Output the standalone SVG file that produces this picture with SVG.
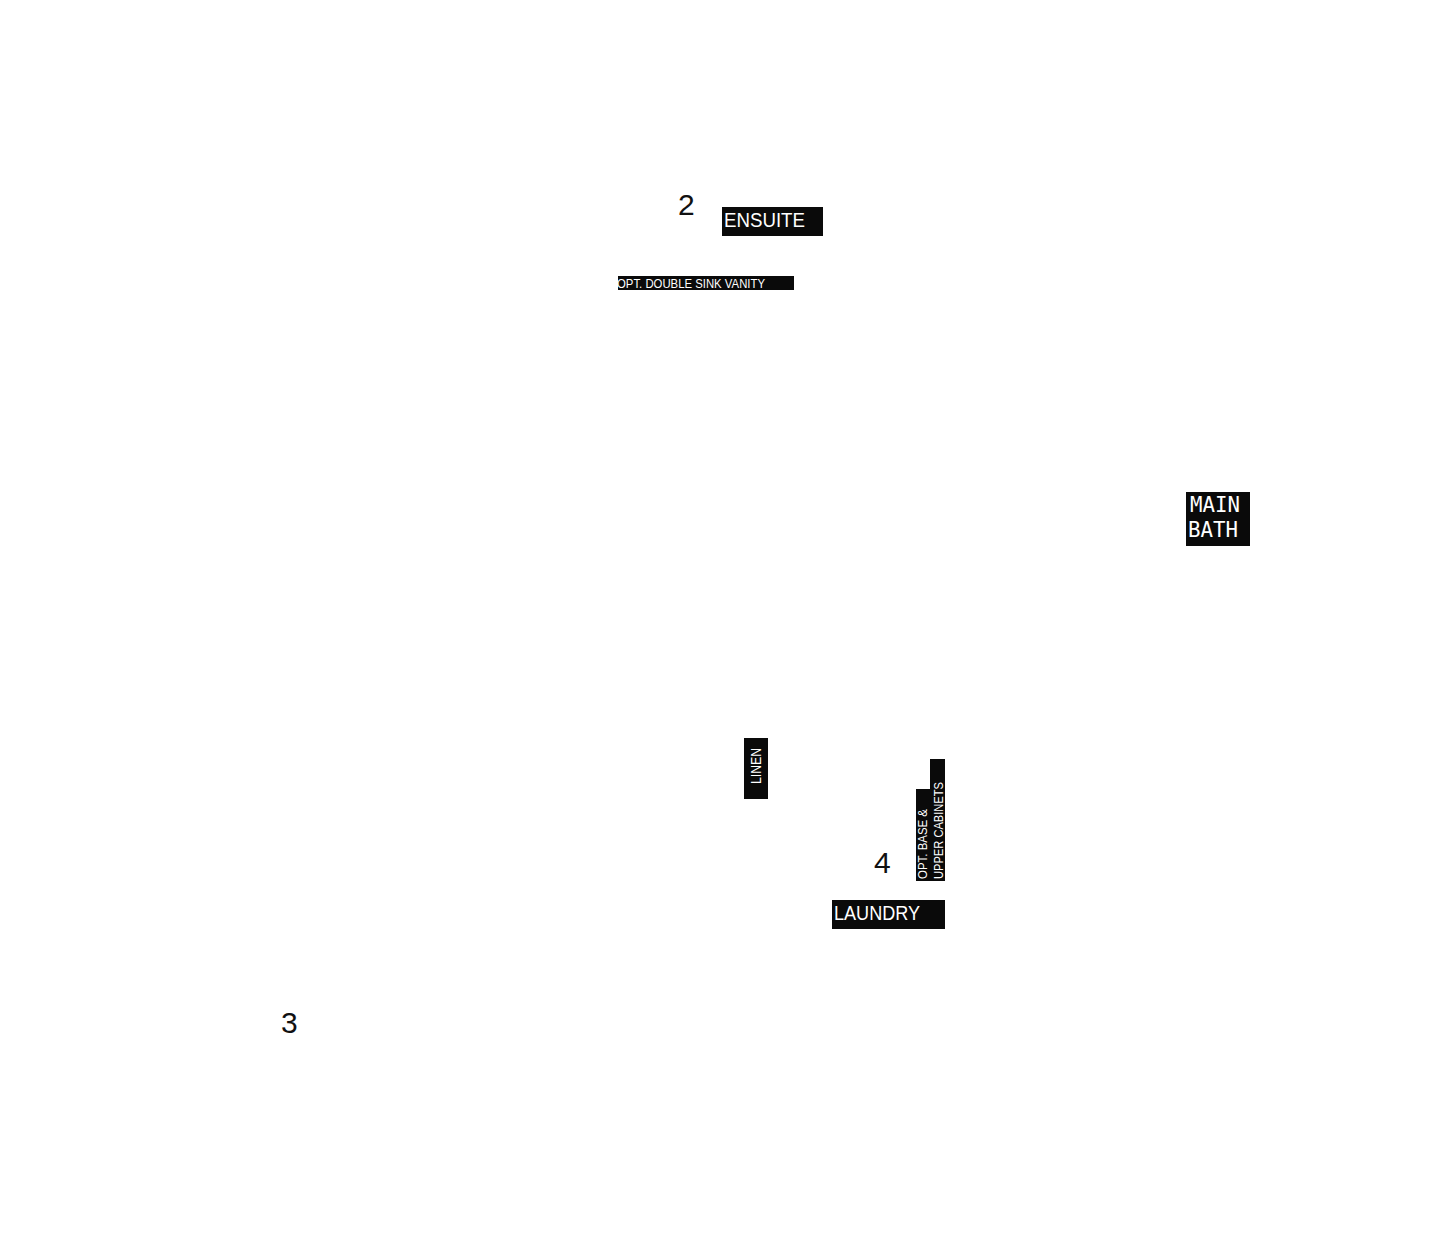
<svg xmlns="http://www.w3.org/2000/svg" width="1454" height="1240" viewBox="0 0 1454 1240">
<style>
.bg{fill:#0a0a0a}
.lbl{fill:#ffffff;font-family:"DejaVu Sans Mono","Liberation Mono",monospace}
.sm{fill:#ffffff;font-family:"Liberation Sans",Arial,sans-serif}
.num{fill:#111111;font-family:"Liberation Sans",Arial,sans-serif;font-size:30px}
</style>
<rect width="1454" height="1240" fill="#ffffff"/>
<g id="room-2-ensuite">
<text class="num" x="678" y="215">2</text>
<rect class="bg" x="722" y="207" width="101" height="29"/>
<text class="sm" x="724" y="227" font-size="21" textLength="81" lengthAdjust="spacingAndGlyphs">ENSUITE</text>
</g>
<g id="vanity">
<rect class="bg" x="618" y="276" width="176" height="14"/>
<text class="sm" x="617" y="288" font-size="13" textLength="148" lengthAdjust="spacingAndGlyphs">OPT. DOUBLE SINK VANITY</text>
</g>
<g id="main-bath">
<rect class="bg" x="1186" y="492" width="64" height="54"/>
<text class="lbl" x="1190" y="512" font-size="21" textLength="50" lengthAdjust="spacingAndGlyphs">MAIN</text>
<text class="lbl" x="1188" y="537" font-size="21" textLength="50" lengthAdjust="spacingAndGlyphs">BATH</text>
</g>
<g id="linen">
<rect class="bg" x="744" y="738" width="24" height="61"/>
<text class="sm" transform="translate(761,784) rotate(-90)" x="0" y="0" font-size="14" textLength="36" lengthAdjust="spacingAndGlyphs">LINEN</text>
</g>
<g id="cabinets">
<rect class="bg" x="916" y="789" width="15" height="92"/>
<text class="sm" transform="translate(927,879) rotate(-90)" x="0" y="0" font-size="13" textLength="70" lengthAdjust="spacingAndGlyphs">OPT. BASE &amp;</text>
<rect class="bg" x="930" y="759" width="15" height="122"/>
<text class="sm" transform="translate(943,879) rotate(-90)" x="0" y="0" font-size="13" textLength="97" lengthAdjust="spacingAndGlyphs">UPPER CABINETS</text>
</g>
<g id="room-4-laundry">
<text class="num" x="874" y="873">4</text>
<rect class="bg" x="832" y="900" width="113" height="29"/>
<text class="sm" x="834" y="920" font-size="21" textLength="86" lengthAdjust="spacingAndGlyphs">LAUNDRY</text>
</g>
<g id="room-3">
<text class="num" x="281" y="1033">3</text>
</g>
<g id="connectors"></g>
</svg>
